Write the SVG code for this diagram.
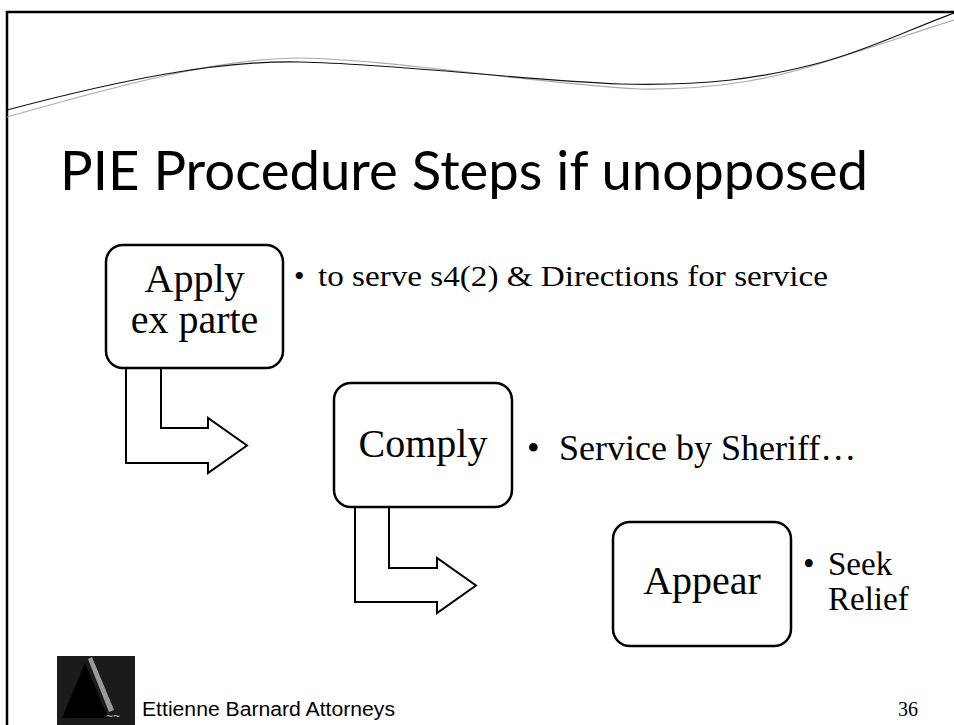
<svg xmlns="http://www.w3.org/2000/svg" width="954" height="725" viewBox="0 0 954 725">
<style>
.box{fill:#fff;stroke:#000;stroke-width:2.5}
.arr{fill:#fff;stroke:#000;stroke-width:2;stroke-linejoin:miter}
.node{font-family:"Liberation Serif",serif;font-size:40px;fill:#000;text-anchor:middle}
.body{font-family:"Liberation Serif",serif;fill:#000}
.title{font-family:Lato,"Liberation Sans",sans-serif;font-size:54px;fill:#000}
.foot{font-family:"Liberation Sans",Arial,sans-serif;font-size:20px;fill:#000}
</style>
<rect width="954" height="725" fill="#fff"/>
<g id="frame">
<path d="M7,725 V12 H954" fill="none" stroke="#000" stroke-width="2.5"/>
<path d="M7,117 C120,85 220,58 300,58 C400,60 520,82 640,89 C720,90 780,78 840,57 C890,42 920,30 954,20" fill="none" stroke="#aaa" stroke-width="1.2"/>
<path d="M7,110 C120,80 220,60 300,62 C400,64 520,80 620,84 C700,86 760,80 830,60 C880,45 920,25 954,13" fill="none" stroke="#111" stroke-width="1.2"/>
</g>
<text id="title" class="title" x="60" y="190" textLength="808" lengthAdjust="spacingAndGlyphs">PIE Procedure Steps if unopposed</text>
<g id="connectors">
<path class="arr" d="M126,368 V463 H208 V473 L247,445.5 L208,418 V428 H161 V368"/>
<path class="arr" d="M355,507 V602 H437 V613 L476,585.5 L437,558 V568 H389 V507"/>
</g>
<g id="node-apply">
<rect class="box" x="106" y="245" width="177" height="123" rx="17"/>
<text class="node" font-size="39"><tspan x="194.5" y="292">Apply</tspan><tspan x="194.5" y="333">ex parte</tspan></text>
</g>
<g id="node-comply">
<rect class="box" x="334" y="383" width="178" height="124" rx="17"/>
<text class="node" x="423" y="457">Comply</text>
</g>
<g id="node-appear">
<rect class="box" x="613" y="522" width="178" height="124" rx="17"/>
<text class="node" x="702" y="594">Appear</text>
</g>
<g id="note-apply">
<text class="body" x="294" y="286" font-size="30">•</text>
<text class="body" x="318" y="286" font-size="30" textLength="510" lengthAdjust="spacingAndGlyphs">to serve s4(2) &amp; Directions for service</text>
</g>
<g id="note-comply">
<text class="body" x="527" y="460" font-size="36">•</text>
<text class="body" x="559" y="460" font-size="36">Service by Sheriff…</text>
</g>
<g id="note-appear">
<text class="body" x="803" y="575" font-size="33">•</text>
<text class="body" font-size="33"><tspan x="828" y="575">Seek</tspan><tspan x="828" y="610">Relief</tspan></text>
</g>
<g id="footer">
<rect x="57" y="656" width="78" height="69" fill="#1b1b1b"/>
<polygon points="85,663 62,718 108,718" fill="#000"/>
<polygon points="88,659 92,657 114,710 109,712" fill="#9a9a9a"/>
<text x="106" y="720" font-family="Liberation Sans,sans-serif" font-size="12" fill="#bbb">~~</text>
<text class="foot" x="142" y="716" textLength="253" lengthAdjust="spacingAndGlyphs">Ettienne Barnard Attorneys</text>
<text class="body" x="898" y="716" font-size="20">36</text>
</g>
</svg>
